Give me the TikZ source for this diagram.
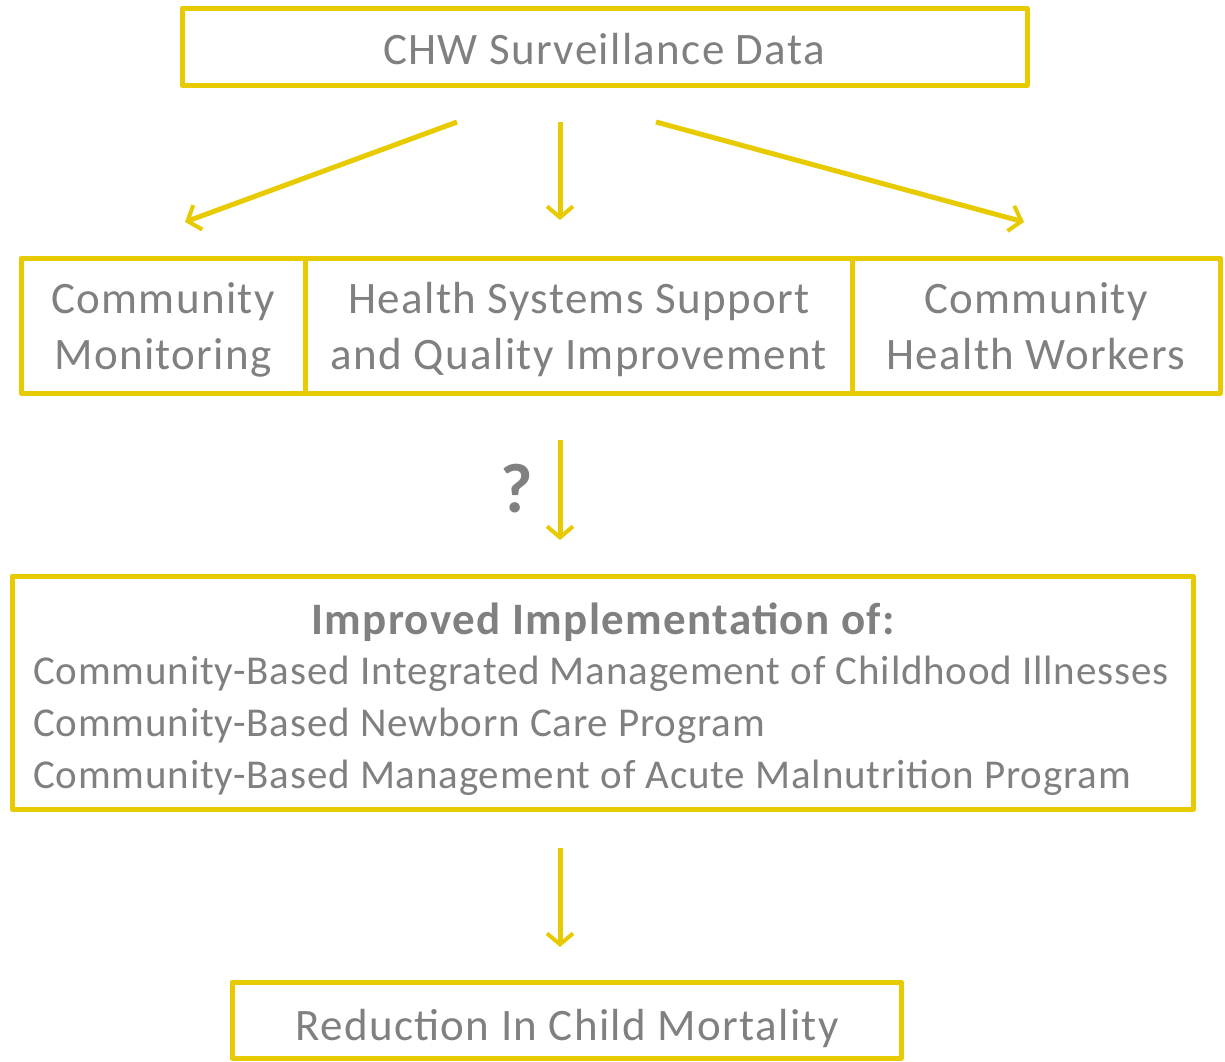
\documentclass[tikz,border=0pt]{standalone}
\usepackage{fontspec}
\setmainfont{Carlito}
\usetikzlibrary{arrows.meta}
\definecolor{ylw}{RGB}{232,202,0}
\definecolor{gry}{RGB}{128,128,128}
\newfontfamily\bigf[LetterSpace=3]{Carlito}
\newfontfamily\smf[LetterSpace=2]{Carlito}
\begin{document}
\begin{tikzpicture}[x=1pt,y=-1pt,
  box/.style={draw=ylw,line width=5pt,line join=round},
  txt/.style={text=gry,inner sep=0pt,anchor=base},
  big/.style={txt,font=\bigf\fontsize{45}{54}\selectfont},
  sm/.style={txt,anchor=base west,font=\smf\fontsize{41}{50}\selectfont},
  arr/.style={draw=ylw,line width=5pt,-{Straight Barb[length=11pt,width=26pt,line width=4pt]}}]
\useasboundingbox (0,0) rectangle (1225,1061);
% boxes
\draw[box] (182,8) rectangle (1027,85);
\draw[box] (21,258) rectangle (1220,393);
\draw[box] (305,258) -- (305,393);
\draw[box] (852,258) -- (852,393);
\draw[box] (12,576) rectangle (1193,809);
\draw[box] (232,982) rectangle (901,1058);
% texts
\node[big] (chw) at (604,64) {CHW Surveillance Data};
\node[big] (cm1) at (163,313) {Community};
\node[big] (cm2) at (163,369) {Monitoring};
\node[big] (hs1) at (579,313) {Health Systems Support};
\node[big] (hs2) at (579,369) {and Quality Improvement};
\node[big] (cw1) at (1036,313) {Community};
\node[big] (cw2) at (1036,369) {Health Workers};
\node[txt,font=\bigf\bfseries\fontsize{45}{54}\selectfont] (imp) at (603,634) {Improved Implementation of:};
\node[sm] (l1) at (33,684) {Community-Based Integrated Management of Childhood Illnesses};
\node[sm] (l2) at (33,736) {Community-Based Newborn Care Program};
\node[sm] (l3) at (33,788) {Community-Based Management of Acute Malnutrition Program};
\node[txt,font=\bfseries\fontsize{70}{70}\selectfont] (q) at (517,512) {?};
\node[big] (red) at (567,1040) {Reduction In Child Mortality};
% arrows
\coordinate (a1s) at (457,122); \coordinate (a1e) at (185,222);
\coordinate (a2s) at (560,122); \coordinate (a2e) at (560,220);
\coordinate (a3s) at (656,122); \coordinate (a3e) at (1024,222);
\coordinate (a4s) at (560,440); \coordinate (a4e) at (560,540);
\coordinate (a5s) at (560,848); \coordinate (a5e) at (560,947);
\draw[arr] (a1s) -- (a1e);
\draw[arr] (a2s) -- (a2e);
\draw[arr] (a3s) -- (a3e);
\draw[arr] (a4s) -- (a4e);
\draw[arr] (a5s) -- (a5e);
\end{tikzpicture}
\end{document}
